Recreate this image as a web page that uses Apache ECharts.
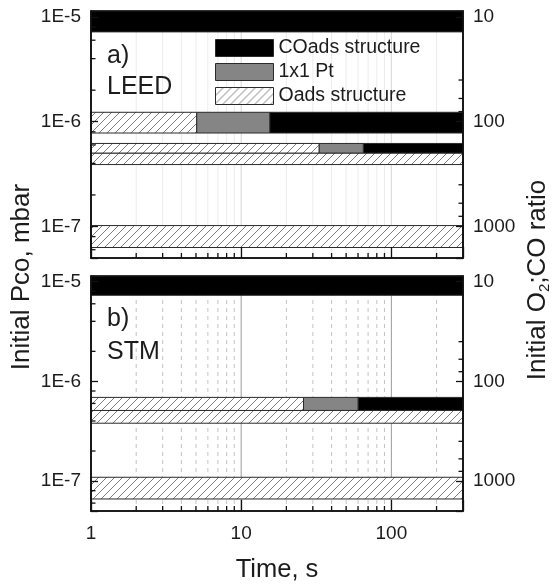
<!DOCTYPE html>
<html><head><meta charset="utf-8">
<script src="https://cdn.jsdelivr.net/npm/echarts@6/dist/echarts.min.js"></script>
<style>html,body{margin:0;padding:0;background:#fff}#c{width:554px;height:584px}</style>
</head><body><div id="c"></div>
<script>
// ---------------- data ----------------
const phaseNames = ['COads structure', '1x1 Pt', 'Oads structure'];

// Panel a) LEED : each bar = time range [start,end] s, Pco band [high,low] mbar, phase index
const leedStart = [1,      1,       5.05,    15.5,    1,       33,      65,      1,       1];
const leedEnd   = [300,    5.05,    15.5,    300,     33,      65,      300,     300,     300];
const leedHigh  = [1.4e-5, 1.23e-6, 1.23e-6, 1.23e-6, 6.2e-7,  6.2e-7,  6.2e-7,  5.0e-7,  1.02e-7];
const leedLow   = [7.2e-6, 7.8e-7,  7.8e-7,  7.8e-7,  5.0e-7,  5.0e-7,  5.0e-7,  3.9e-7,  6.3e-8];
const leedPhase = [0,      2,       1,       0,       2,       1,       0,       2,       2];

// Panel b) STM
const stmStart = [1,      1,       26,      60,      1,       1];
const stmEnd   = [300,    26,      60,      300,     300,     300];
const stmHigh  = [1.4e-5, 6.9e-7,  6.9e-7,  6.9e-7,  5.1e-7,  1.09e-7];
const stmLow   = [7.3e-6, 5.1e-7,  5.1e-7,  5.1e-7,  3.8e-7,  6.6e-8];
const stmPhase = [0,      2,       1,       0,       2,       2];

// axes
const xMin = 1, xMax = 300;
const yMin = 5e-8, yMax = 1.14e-5;
const xMajorTicks = [1, 10, 100];
const xMinorTicks = [2,3,4,5,6,7,8,9,20,30,40,50,60,70,80,90,200];
const yMajorTicks = [1e-7, 1e-6, 1e-5];
const yMinorTicksLeft = [6e-8, 8e-8, 2e-7, 4e-7, 6e-7, 8e-7, 2e-6, 4e-6, 6e-6, 8e-6];
const ratioMinorTicks = [40, 60, 80, 400, 600, 800]; // O2:CO ratio = 1e-4 / Pco

// ---------------- style ----------------
const FONT = "'Liberation Sans', Arial, sans-serif";
const INK = '#1c1c1c';

function makeHatch() {
  const c = document.createElement('canvas');
  c.width = 8; c.height = 8;
  const g = c.getContext('2d');
  g.fillStyle = '#ffffff'; g.fillRect(0, 0, 8, 8);
  g.strokeStyle = '#6e6e6e'; g.lineWidth = 0.9;
  g.beginPath();
  g.moveTo(0, 8); g.lineTo(8, 0);
  g.moveTo(-1, 1); g.lineTo(1, -1);
  g.moveTo(7, 9); g.lineTo(9, 7);
  g.stroke();
  return c;
}
const hatch = { image: makeHatch(), repeat: 'repeat' };
const fills = ['#000000', '#858585', hatch];

const isPow10 = v => Math.abs(Math.log10(v) - Math.round(Math.log10(v))) < 1e-6;

const grids = [
  { left: 91, top: 11, width: 372, height: 247 },
  { left: 91, top: 276, width: 372, height: 242 }
];

function xAxis(gi, showLabels) {
  return {
    type: 'log', logBase: 10, gridIndex: gi, min: xMin, max: xMax, z: 5,
    name: showLabels ? 'Time, s' : '', nameLocation: 'middle', nameGap: 46,
    nameTextStyle: { fontSize: 25.5, color: INK, fontFamily: FONT },
    axisLine: { show: true, onZero: false, lineStyle: { color: '#111', width: 1.6 } },
    axisTick: { show: true, inside: true, length: 11, lineStyle: { color: '#111', width: 1.3 } },
    axisLabel: { show: showLabels, margin: 13, interval: 0, fontSize: 19, color: INK, fontFamily: FONT,
      formatter: v => isPow10(v) ? String(Math.round(v)) : '' },
    splitLine: { show: false }
  };
}
function yAxis(gi, right) {
  return {
    type: 'log', logBase: 10, gridIndex: gi, min: yMin, max: yMax, z: 5,
    position: right ? 'right' : 'left',
    axisLine: { show: true, onZero: false, lineStyle: { color: '#111', width: 1.6 } },
    axisTick: { show: true, inside: true, length: 7, lineStyle: { color: '#111', width: 1.3 } },
    axisLabel: { show: true, margin: 10, interval: 0, fontSize: 19, color: INK, fontFamily: FONT,
      formatter: v => isPow10(v) ? (right ? String(Math.round(1e-4 / v)) : '1E' + Math.round(Math.log10(v))) : '' },
    splitLine: { show: false }
  };
}

function barSeries(gi, start, end, high, low, phase, ph) {
  const data = [];
  for (let i = 0; i < start.length; i++) if (phase[i] === ph) data.push([start[i], end[i], high[i], low[i]]);
  return {
    type: 'custom', name: phaseNames[ph], xAxisIndex: gi, yAxisIndex: gi * 2, z: 3, silent: true,
    data, encode: { x: [0, 1], y: [2, 3] },
    renderItem(params, api) {
      const cs = params.coordSys;
      const p1 = api.coord([api.value(0), api.value(2)]);
      const p2 = api.coord([api.value(1), api.value(3)]);
      const x1 = Math.max(p1[0], cs.x), x2 = Math.min(p2[0], cs.x + cs.width);
      const y1 = Math.max(p1[1], cs.y), y2 = Math.min(p2[1], cs.y + cs.height);
      return { type: 'rect', shape: { x: x1, y: y1, width: x2 - x1, height: y2 - y1 },
        style: { fill: fills[ph], stroke: '#2a2a2a', lineWidth: 1 } };
    }
  };
}

function decoSeries(gi, values, kind, style, z) {
  return {
    type: 'custom', xAxisIndex: gi, yAxisIndex: gi * 2, z, silent: true,
    data: values.map(v => [v]),
    renderItem(params, api) {
      const cs = params.coordSys;
      const v = api.value(0);
      let shape;
      if (kind === 'vgrid') {
        const x = api.coord([v, 1e-6])[0];
        shape = { x1: x, y1: cs.y, x2: x, y2: cs.y + cs.height };
      } else if (kind === 'xtick') {
        const x = api.coord([v, 1e-6])[0];
        shape = { x1: x, y1: cs.y + cs.height, x2: x, y2: cs.y + cs.height - 5 };
      } else if (kind === 'ltick') {
        const y = api.coord([10, v])[1];
        shape = { x1: cs.x, y1: y, x2: cs.x + 4.5, y2: y };
      } else {
        const y = api.coord([10, 1e-4 / v])[1];
        shape = { x1: cs.x + cs.width, y1: y, x2: cs.x + cs.width - 4.5, y2: y };
      }
      return { type: 'line', shape, style };
    }
  };
}

const series = [];
// gridlines
series.push(decoSeries(0, xMinorTicks, 'vgrid', { stroke: '#ececec', lineWidth: 1 }, 1));
series.push(decoSeries(0, [10, 100], 'vgrid', { stroke: '#d6d6d6', lineWidth: 1 }, 1));
series.push(decoSeries(1, xMinorTicks, 'vgrid', { stroke: '#c4c4c4', lineWidth: 1, lineDash: [4, 4] }, 1));
series.push(decoSeries(1, [10, 100], 'vgrid', { stroke: '#9a9a9a', lineWidth: 1 }, 1));
// bars
for (let ph = 0; ph < 3; ph++) series.push(barSeries(0, leedStart, leedEnd, leedHigh, leedLow, leedPhase, ph));
for (let ph = 0; ph < 3; ph++) series.push(barSeries(1, stmStart, stmEnd, stmHigh, stmLow, stmPhase, ph));
// minor ticks
for (let gi = 0; gi < 2; gi++) {
  series.push(decoSeries(gi, xMinorTicks, 'xtick', { stroke: '#111', lineWidth: 1.3 }, 6));
  series.push(decoSeries(gi, yMinorTicksLeft, 'ltick', { stroke: '#111', lineWidth: 1.3 }, 6));
  series.push(decoSeries(gi, ratioMinorTicks, 'rtick', { stroke: '#111', lineWidth: 1.3 }, 6));
}

const txt = (x, y, text, size, extra) => Object.assign({
  type: 'text', x, y, z: 10, silent: true,
  style: Object.assign({ text, fontSize: size, fontFamily: FONT, fill: INK, textAlign: 'left', textVerticalAlign: 'middle' }, extra || {})
});

const option = {
  animation: false,
  backgroundColor: '#ffffff',
  grid: grids.map(g => Object.assign({ show: true, borderColor: '#111', borderWidth: 1.6, backgroundColor: 'transparent', z: 5 }, g)),
  xAxis: [xAxis(0, false), xAxis(1, true)],
  yAxis: [yAxis(0, false), yAxis(0, true), yAxis(1, false), yAxis(1, true)],
  legend: {
    left: 215, top: 38, padding: 0, orient: 'vertical', itemWidth: 58, itemHeight: 17, itemGap: 4,
    icon: 'rect', selectedMode: false,
    textStyle: { fontSize: 19.5, color: INK, fontFamily: FONT },
    data: [
      { name: phaseNames[0], itemStyle: { color: fills[0], borderColor: '#2a2a2a', borderWidth: 1 } },
      { name: phaseNames[1], itemStyle: { color: fills[1], borderColor: '#2a2a2a', borderWidth: 1 } },
      { name: phaseNames[2], itemStyle: { color: hatch, borderColor: '#2a2a2a', borderWidth: 1 } }
    ]
  },
  graphic: [
    txt(107, 56, 'a)', 25),
    txt(107, 87, 'LEED', 25),
    txt(107, 319, 'b)', 25),
    txt(107, 352, 'STM', 25),
    { type: 'text', x: 22, y: 277, rotation: Math.PI / 2, z: 10, silent: true,
      style: { text: 'Initial Pco, mbar', fontSize: 26, fontFamily: FONT, fill: INK, textAlign: 'center', textVerticalAlign: 'middle' } },
    { type: 'text', x: 538, y: 280, rotation: Math.PI / 2, z: 10, silent: true,
      style: { text: 'Initial O{s|2};CO ratio', fontSize: 26, fontFamily: FONT, fill: INK, textAlign: 'center', textVerticalAlign: 'middle',
        rich: { s: { fontSize: 15, fontFamily: FONT, fill: INK, verticalAlign: 'bottom', padding: [14, 0, 0, 0] } } } }
  ],
  series
};

const chart = echarts.init(document.getElementById('c'), null, { renderer: 'canvas' });
chart.setOption(option);
</script>
</body></html>
